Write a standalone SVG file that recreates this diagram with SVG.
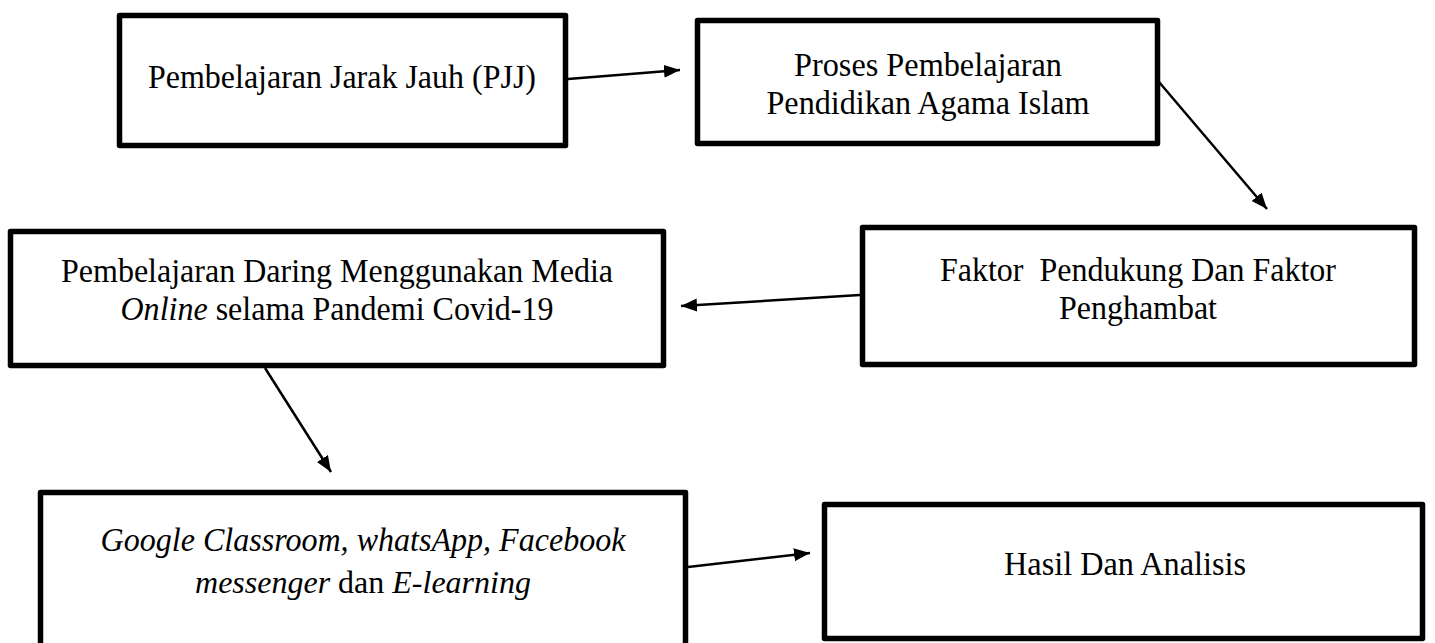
<svg xmlns="http://www.w3.org/2000/svg" width="1435" height="643" viewBox="0 0 1435 643">
<style>
.box{fill:#fff;stroke:#000;stroke-width:5.5;stroke-linejoin:round}
.t{font-family:"Liberation Serif","Times New Roman",serif;font-size:34px;fill:#000;text-anchor:middle}
.i{font-style:italic}
.c{stroke:#000;stroke-width:2.5;fill:none;marker-end:url(#ah)}
</style>
<defs>
<marker id="ah" markerUnits="userSpaceOnUse" markerWidth="18" markerHeight="14" refX="16" refY="6.5" orient="auto">
<path d="M0,0 L16,6.5 L0,13 z" fill="#000"/>
</marker>
</defs>
<rect width="1435" height="643" fill="#fff"/>
<g id="n1"><rect class="box" x="119.5" y="15.5" width="446" height="130"/>
<text class="t" x="342" y="88" textLength="388" lengthAdjust="spacingAndGlyphs">Pembelajaran Jarak Jauh (PJJ)</text></g>
<g id="n2"><rect class="box" x="697.5" y="20.5" width="460" height="123"/>
<text class="t" x="928" y="76" textLength="268" lengthAdjust="spacingAndGlyphs">Proses Pembelajaran</text>
<text class="t" x="928" y="114" textLength="323" lengthAdjust="spacingAndGlyphs">Pendidikan Agama Islam</text></g>
<g id="n3"><rect class="box" x="862.5" y="227.5" width="552" height="137"/>
<text class="t" x="1138" y="281" xml:space="preserve" textLength="396" lengthAdjust="spacingAndGlyphs">Faktor  Pendukung Dan Faktor</text>
<text class="t" x="1138" y="319" textLength="158" lengthAdjust="spacingAndGlyphs">Penghambat</text></g>
<g id="n4"><rect class="box" x="10.5" y="231.5" width="653" height="134"/>
<text class="t" x="337" y="282" textLength="552" lengthAdjust="spacingAndGlyphs">Pembelajaran Daring Menggunakan Media</text>
<text class="t" x="337" y="320" textLength="433" lengthAdjust="spacingAndGlyphs"><tspan class="i">Online</tspan> selama Pandemi Covid-19</text></g>
<g id="n5"><rect class="box" x="40.5" y="492.5" width="645" height="170"/>
<text class="t i" x="363" y="551" textLength="525" lengthAdjust="spacingAndGlyphs">Google Classroom, whatsApp, Facebook</text>
<text class="t" x="363" y="593" style="font-size:32px"><tspan class="i">messenger</tspan> dan <tspan class="i">E-learning</tspan></text></g>
<g id="n6"><rect class="box" x="824.5" y="504.5" width="598" height="134"/>
<text class="t" x="1125" y="575" textLength="242" lengthAdjust="spacingAndGlyphs">Hasil Dan Analisis</text></g>
<g id="connectors">
<line class="c" x1="568" y1="79" x2="680" y2="70"/>
<line class="c" x1="1159" y1="82" x2="1267" y2="209"/>
<line class="c" x1="860" y1="295" x2="681" y2="306"/>
<line class="c" x1="265" y1="368" x2="331" y2="472"/>
<line class="c" x1="688" y1="567" x2="810" y2="553"/>
</g>
</svg>
